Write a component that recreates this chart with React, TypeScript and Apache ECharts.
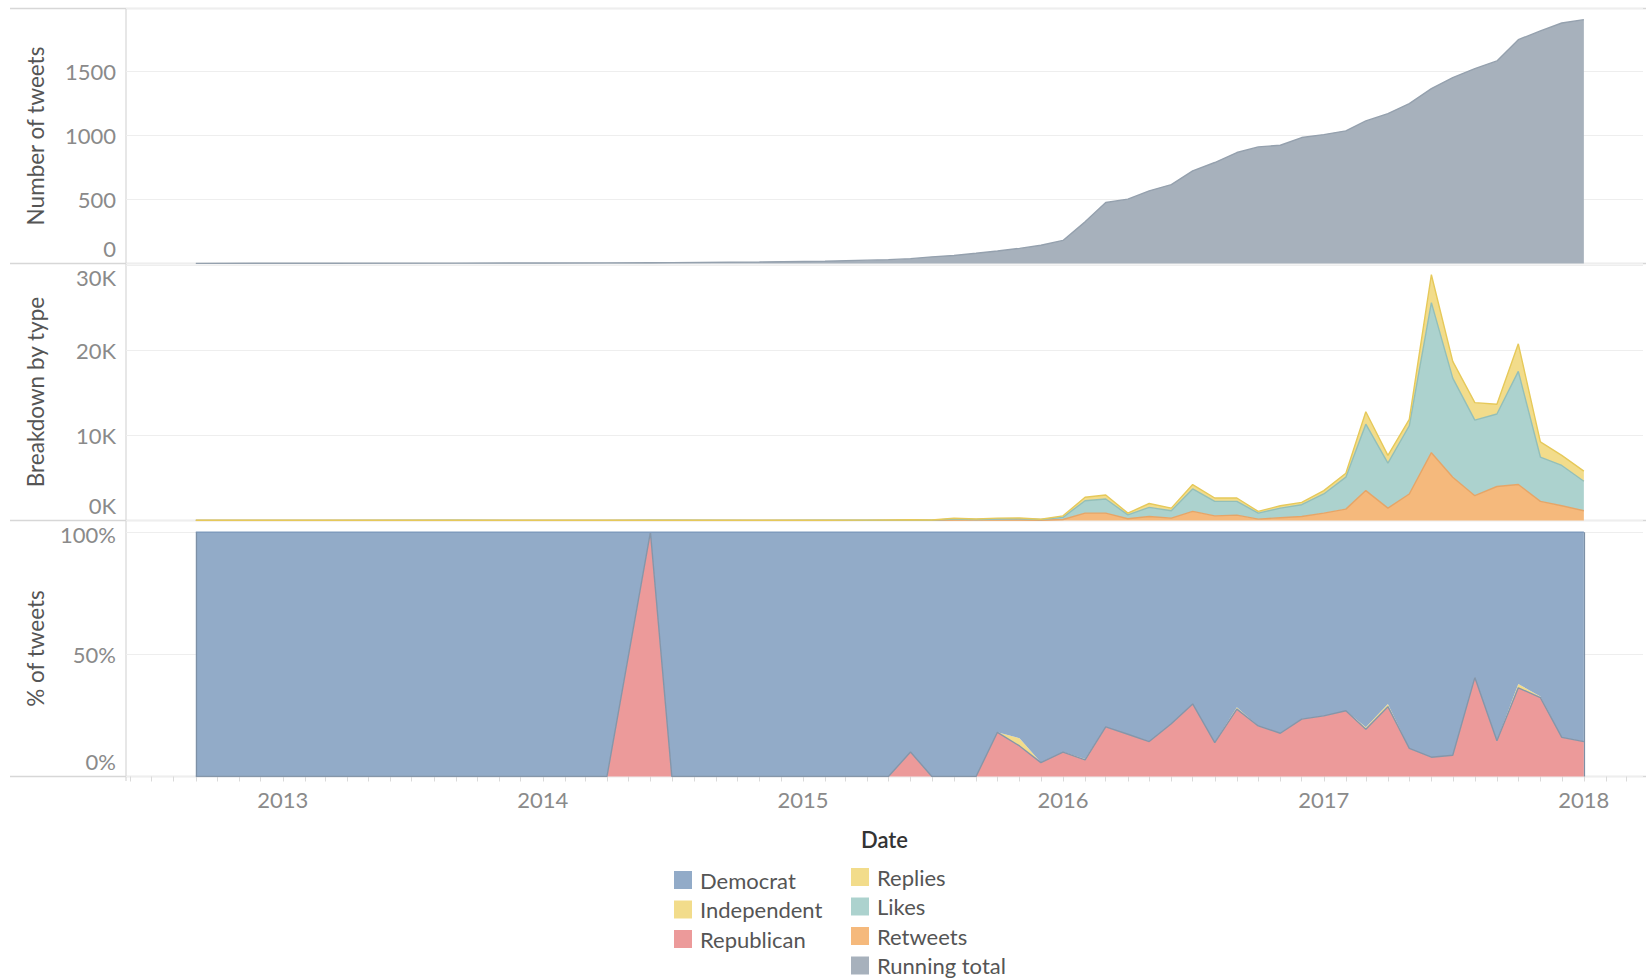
import React, { useEffect, useRef } from "react";
import * as echarts from "echarts";

// ---------- data ----------
const dates = [
  "2012-09-01", "2013-03-01", "2013-09-01", "2014-01-01", "2014-04-01", "2014-06-01", "2014-07-01",
  "2014-11-01", "2015-02-01", "2015-04-01", "2015-05-01", "2015-06-01", "2015-07-01", "2015-08-01",
  "2015-09-01", "2015-10-01", "2015-11-01", "2015-12-01", "2016-01-01", "2016-02-01", "2016-03-01",
  "2016-04-01", "2016-05-01", "2016-06-01", "2016-07-01", "2016-08-01", "2016-09-01", "2016-10-01",
  "2016-11-01", "2016-12-01", "2017-01-01", "2017-02-01", "2017-03-01", "2017-04-01", "2017-05-01",
  "2017-06-01", "2017-07-01", "2017-08-01", "2017-09-01", "2017-10-01", "2017-11-01", "2017-12-01",
  "2018-01-01",
];

const runningTotal = [
  1, 2, 3, 4, 5, 6, 7, 12, 18, 26, 30, 38, 52, 62, 80, 98, 118, 142, 180, 325, 476, 502, 567, 616,
  723, 788, 866, 910, 923, 983, 1006, 1035, 1113, 1170, 1248, 1365, 1451, 1521, 1581, 1747, 1815,
  1877, 1903,
];

const retweets = [
  5, 5, 8, 5, 5, 10, 8, 6, 8, 10, 15, 20, 15, 60, 40, 50, 60, 30, 120, 870, 870, 200, 470, 280, 1070,
  550, 630, 160, 320, 470, 870, 1340, 3520, 1460, 3120, 7980, 5100, 2920, 4000, 4230, 2250, 1740, 1150,
];
const likes = [
  10, 10, 15, 10, 10, 20, 15, 12, 15, 20, 30, 40, 30, 120, 80, 130, 150, 80, 250, 1460, 1660, 470,
  1070, 870, 2650, 1700, 1620, 710, 1140, 1390, 2250, 3760, 7820, 5300, 8030, 17670, 11660, 8900,
  8530, 13320, 5220, 4740, 3470,
];
const replies = [
  10, 10, 12, 10, 10, 15, 10, 10, 12, 15, 20, 25, 20, 80, 50, 100, 90, 40, 180, 400, 470, 200, 460,
  310, 510, 400, 400, 200, 280, 270, 400, 470, 1460, 910, 750, 3280, 1970, 2050, 1150, 3250, 1780,
  1190, 1190,
];

const republican = [
  0, 0, 0, 0, 0, 100, 0, 0, 0, 0, 0, 10, 0, 0, 0, 18.1, 12.5, 5.7, 10, 6.8, 20.3, 17.3, 14.3, 21.6,
  29.7, 13.9, 27.6, 20.7, 17.7, 23.5, 24.8, 26.9, 19.3, 28.6, 11.5, 7.9, 8.7, 40.5, 14.6, 36.3, 32.3,
  16, 14.3,
];
const independent = [
  0, 0, 0, 0, 0, 0, 0, 0, 0, 0, 0, 0, 0, 0, 0, 0, 3.2, 0, 0, 0.4, 0, 0, 0, 0, 0, 0, 0.8, 0, 0, 0, 0,
  0, 0.9, 1.1, 0, 0, 0, 0, 0, 1.6, 0.4, 0, 0,
];
const democrat = [
  100, 100, 100, 100, 100, 0, 100, 100, 100, 100, 100, 90, 100, 100, 100, 81.9, 84.3, 94.3, 90, 92.8,
  79.7, 82.7, 85.7, 78.4, 70.3, 86.1, 71.6, 79.3, 82.3, 76.5, 75.2, 73.1, 79.8, 70.3, 88.5, 92.1,
  91.3, 59.5, 85.4, 62.1, 67.3, 84, 85.7,
];

const yearLabels = ["2013", "2014", "2015", "2016", "2017", "2018"];
const countTicks = [0, 500, 1000, 1500];
const typeTicks = [0, 10000, 20000, 30000];
const pctTicks = [0, 50, 100];

const partyLegend = ["Democrat", "Independent", "Republican"];
const typeLegend = ["Replies", "Likes", "Retweets", "Running total"];

// ---------- style ----------
const FONT = 'Lato, "Open Sans", sans-serif';
const FS = 22;
const C = {
  dem: "#92abc8",
  demLine: "#7f9bbd",
  demEdge: "#7d90a6",
  ind: "#f2dc8b",
  rep: "#ec9a9a",
  repLine: "#8596a9",
  replies: "#f2dc8b",
  repliesLine: "#e6c95a",
  likes: "#acd2ce",
  likesLine: "#93bfb9",
  retweets: "#f5b97c",
  retweetsLine: "#e6a567",
  total: "#a7b1bc",
  totalLine: "#95a1ae",
};
const LABEL_COLOR = "#8a8a8a";
const TITLE_COLOR = "#555";
const BORDER = "#d7d7d7";
const GRIDLINE = "#eeeeee";

const pairs = (vals: number[]) => dates.map((d, i) => [d, vals[i]]);

const xMin = new Date(2012, 4, 26).getTime();
const xMax = new Date(2018, 2, 25).getTime();
const monthTicks: number[] = [];
for (let y = 2012; y <= 2018; y++) {
  for (let m = 0; m < 12; m++) {
    const t = new Date(y, m, 1).getTime();
    if (t >= xMin && t <= xMax) monthTicks.push(t);
  }
}
const yearTickValues = yearLabels.map((y) => new Date(+y, 0, 1).getTime());

const GL = 126;
const GW = 1517;
const P = [
  { top: 8.5, bottom: 263.5 },
  { top: 263.5, bottom: 520.5 },
  { top: 520.5, bottom: 776.5 },
];

const labelRich = (shiftTop: number, shiftBottom: number) => ({
  n: { fontSize: FS, color: LABEL_COLOR, fontFamily: FONT },
  lo: { fontSize: FS, color: LABEL_COLOR, fontFamily: FONT, padding: [0, 0, shiftBottom, 0] },
  hi: { fontSize: FS, color: LABEL_COLOR, fontFamily: FONT, padding: [shiftTop, 0, 0, 0] },
});

// hidden time axis that carries the series (one per panel)
function timeX(i: number) {
  return {
    type: "time",
    gridIndex: i,
    position: "top",
    min: xMin,
    max: xMax,
    axisLine: { show: false },
    splitLine: { show: false },
    axisTick: { show: false },
    axisLabel: { show: false },
  };
}

// visible date scale under the bottom panel (same extent, ticks and year labels)
const dateAxis = {
  type: "value",
  gridIndex: 2,
  position: "bottom",
  min: xMin,
  max: xMax,
  axisLine: { show: false },
  splitLine: { show: false },
  axisTick: { show: true, customValues: monthTicks, length: 5, lineStyle: { color: "#dadada", width: 1 } },
  axisLabel: {
    show: true,
    customValues: yearTickValues,
    formatter: (v: number) => String(new Date(v).getFullYear()),
    fontSize: FS,
    color: LABEL_COLOR,
    fontFamily: FONT,
    margin: 12,
  },
  name: "Date",
  nameLocation: "middle",
  nameGap: 52,
  nameTextStyle: { fontSize: FS, color: "#333", fontFamily: FONT, fontWeight: 600 },
};

function baseY(
  i: number,
  name: string,
  max: number,
  interval: number,
  ticks: number[],
  fmt: (v: number) => string,
  topLabel: number,
  shiftTop: number,
  shiftBottom: number
) {
  return {
    type: "value",
    gridIndex: i,
    min: 0,
    max,
    interval,
    name,
    nameLocation: "middle",
    nameGap: 79,
    nameTextStyle: { fontSize: 22.5, color: TITLE_COLOR, fontFamily: FONT },
    axisLine: { show: false },
    axisTick: { show: false },
    splitLine: { show: true, lineStyle: { color: GRIDLINE, width: 1 } },
    axisLabel: {
      customValues: ticks,
      margin: 10,
      formatter: (v: number) => {
        const s = fmt(v);
        if (v === 0) return "{lo|" + s + "}";
        if (v === topLabel) return "{hi|" + s + "}";
        return "{n|" + s + "}";
      },
      rich: labelRich(shiftTop, shiftBottom),
    },
  };
}

function areaSeries(
  name: string,
  xi: number,
  vals: number[],
  fill: string,
  line: string,
  lineWidth: number,
  stack?: string
) {
  return {
    name,
    type: "line",
    xAxisIndex: xi,
    yAxisIndex: xi,
    data: pairs(vals),
    stack,
    symbol: "none",
    showSymbol: false,
    lineStyle: { color: line, width: lineWidth },
    areaStyle: { color: fill, opacity: 1 },
    itemStyle: { color: fill },
    emphasis: { disabled: true },
  };
}

const legendColors: Record<string, string> = {
  Democrat: C.dem,
  Independent: C.ind,
  Republican: C.rep,
  Replies: C.replies,
  Likes: C.likes,
  Retweets: C.retweets,
  "Running total": C.total,
};

function legend(names: string[], left: number, top: number) {
  return {
    data: names.map((n) => ({ name: n, itemStyle: { color: legendColors[n], borderWidth: 0 } })),
    left,
    top,
    orient: "vertical",
    icon: "rect",
    itemWidth: 18,
    itemHeight: 18,
    itemGap: 7.5,
    selectedMode: false,
    padding: 0,
    textStyle: { fontSize: FS, color: "#555", fontFamily: FONT, lineHeight: 22, padding: [0, 0, 0, 3] },
  };
}

export default function App() {
  const ref = useRef<HTMLDivElement>(null);
  useEffect(() => {
    if (!ref.current) return;
    const chart = echarts.init(ref.current, undefined, { renderer: "svg" });
    const hLine = (y: number) => ({
      type: "line",
      shape: { x1: 10, y1: y, x2: 1646, y2: y },
      style: { stroke: BORDER, lineWidth: 1.5 },
      silent: true,
    });
    const first = dates[0];
    const last = dates[dates.length - 1];
    const democratSeries: any = areaSeries("Democrat", 2, democrat, C.dem, C.demLine, 1.4, "party");
    democratSeries.markLine = {
      silent: true,
      symbol: "none",
      label: { show: false },
      lineStyle: { color: C.demEdge, width: 1.2, type: "solid" },
      data: [
        [{ coord: [first, 0] }, { coord: [first, 100] }],
        [{ coord: [last, 0] }, { coord: [last, 100] }],
      ],
    };
    chart.setOption({
      animation: false,
      backgroundColor: "#ffffff",
      grid: P.map((p) => ({ left: GL, width: GW, top: p.top, height: p.bottom - p.top })),
      xAxis: [timeX(0), timeX(1), timeX(2), dateAxis],
      yAxis: [
        baseY(0, "Number of tweets", 1990, 500, countTicks, (v) => String(v), -1, 0, 31),
        baseY(1, "Breakdown by type", 30250, 10000, typeTicks, (v) => v / 1000 + "K", 30000, 24, 30),
        baseY(2, "% of tweets", 104.8, 50, pctTicks, (v) => v + "%", 100, 4, 31),
      ],
      legend: [legend(partyLegend, 674, 869), legend(typeLegend, 851, 866)],
      graphic: [
        hLine(8.5),
        hLine(263.5),
        hLine(520.5),
        hLine(776.5),
        {
          type: "line",
          shape: { x1: GL, y1: 8, x2: GL, y2: 781 },
          style: { stroke: BORDER, lineWidth: 1.2 },
          silent: true,
        },
      ],
      series: [
        areaSeries("Running total", 0, runningTotal, C.total, C.totalLine, 1.4),
        areaSeries("Retweets", 1, retweets, C.retweets, C.retweetsLine, 1.4, "type"),
        areaSeries("Likes", 1, likes, C.likes, C.likesLine, 1.4, "type"),
        areaSeries("Replies", 1, replies, C.replies, C.repliesLine, 1.4, "type"),
        areaSeries("Republican", 2, republican, C.rep, C.repLine, 1.4, "party"),
        areaSeries("Independent", 2, independent, C.ind, C.ind, 0, "party"),
        democratSeries,
      ],
    });
    return () => chart.dispose();
  }, []);
  return (
    <div
      ref={ref}
      style={{ position: "fixed", left: 0, top: 0, width: 1652, height: 980, background: "#fff" }}
    />
  );
}
